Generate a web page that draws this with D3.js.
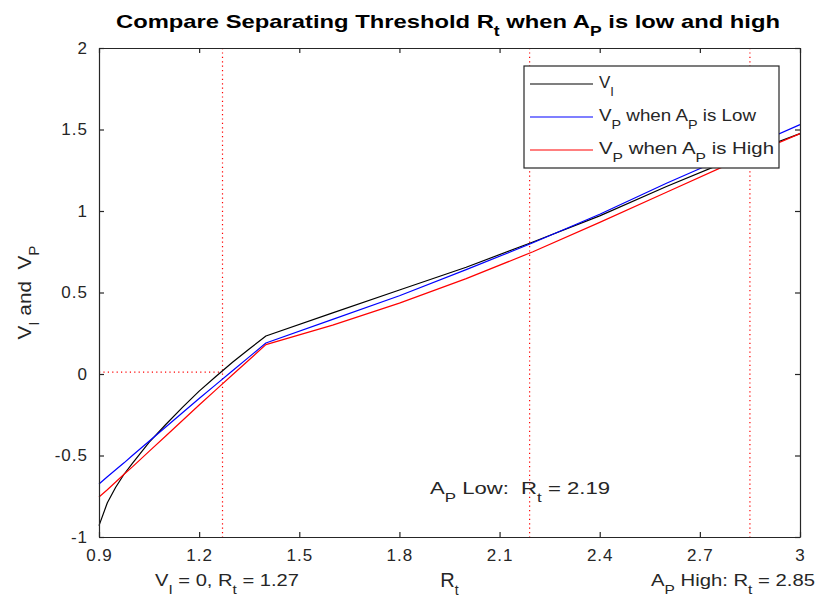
<!DOCTYPE html>
<meta charset="utf-8">
<title>Separating Threshold</title>
<script src="https://d3js.org/d3.v7.min.js"></script>
<style>
    body { margin: 0; background: #fff; }
    svg text { font-family: "Liberation Sans", Arial, Helvetica, sans-serif; fill: #262626; white-space: pre; }
</style>
<body>
<div id="chart"></div>
<script>
    // data
    var rt = [0.9, 0.925, 0.95, 0.975, 1.0, 1.05, 1.1, 1.15, 1.2, 1.25, 1.3, 1.35, 1.4, 1.6, 1.8, 2.0, 2.2, 2.4, 2.6, 2.8, 3.0];
    var vI = [-0.93, -0.79, -0.695, -0.615, -0.548, -0.42, -0.31, -0.205, -0.105, -0.015, 0.072, 0.153, 0.233, 0.375, 0.515, 0.655, 0.81, 0.97, 1.15, 1.32, 1.475];
    var vPLow = [-0.675, -0.63, -0.5875, -0.545, -0.50, -0.4125, -0.325, -0.2375, -0.15, -0.065, 0.02, 0.105, 0.19, 0.335, 0.48, 0.64, 0.805, 0.98, 1.17, 1.35, 1.53];
    var vPHigh = [-0.755, -0.71, -0.6625, -0.615, -0.57, -0.475, -0.38, -0.285, -0.19, -0.0975, -0.005, 0.0875, 0.18, 0.30, 0.435, 0.585, 0.75, 0.93, 1.115, 1.30, 1.475];
    var xTicks = [0.9, 1.2, 1.5, 1.8, 2.1, 2.4, 2.7, 3];
    var yTicks = [-1, -0.5, 0, 0.5, 1, 1.5, 2];
    var thresholds = [1.27, 2.19, 2.85];

    var W = 832, H = 601;
    var margin = {top: 48, right: 32, bottom: 64, left: 99};
    var width = W - margin.left - margin.right,
        height = H - margin.top - margin.bottom;

    var svg = d3.select("#chart").append("svg")
        .attr("width", W).attr("height", H);
    var g = svg.append("g")
        .attr("transform", "translate(" + margin.left + "," + margin.top + ")");

    var x = d3.scaleLinear().domain([0.9, 3]).range([0, width]);
    var y = d3.scaleLinear().domain([-1, 2]).range([height, 0]);

    // dotted threshold lines
    g.selectAll(".thr").data(thresholds).enter().append("line")
        .attr("x1", function(d) { return x(d); }).attr("x2", function(d) { return x(d); })
        .attr("y1", 0).attr("y2", height)
        .style("stroke", "#ff0000").style("stroke-width", 1.2)
        .style("stroke-dasharray", "1.2,3.2");
    g.append("line")
        .attr("x1", x(0.9)).attr("x2", x(1.27))
        .attr("y1", y(0.012)).attr("y2", y(0.012))
        .style("stroke", "#ff0000").style("stroke-width", 1.2)
        .style("stroke-dasharray", "1.2,3.2");

    var series = [
        {name: "VI", vals: vI, color: "#000000"},
        {name: "low", vals: vPLow, color: "#0000ff"},
        {name: "high", vals: vPHigh, color: "#ff0000"}
    ];
    var line = d3.line()
        .x(function(d) { return x(d[0]); })
        .y(function(d) { return y(d[1]); });

    g.selectAll(".series").data(series).enter().append("path")
        .attr("d", function(s) { return line(rt.map(function(r, i) { return [r, s.vals[i]]; })); })
        .style("fill", "none")
        .style("stroke", function(s) { return s.color; })
        .style("stroke-width", 1.2)
        .style("stroke-linejoin", "round");

    // axes box, ticks pointing inward on all four sides
    var tickLen = 5;
    var axB = g.append("g").attr("transform", "translate(0," + height + ")")
        .call(d3.axisBottom(x).tickValues(xTicks).tickSizeInner(-tickLen).tickSizeOuter(0).tickPadding(12)
            .tickFormat(function(d) { return String(d); }));
    var axL = g.append("g")
        .call(d3.axisLeft(y).tickValues(yTicks).tickSizeInner(-tickLen).tickSizeOuter(0).tickPadding(11)
            .tickFormat(function(d) { return String(d); }));
    var axT = g.append("g")
        .call(d3.axisTop(x).tickValues(xTicks).tickSizeInner(-tickLen).tickSizeOuter(0).tickFormat(""));
    var axR = g.append("g").attr("transform", "translate(" + width + ",0)")
        .call(d3.axisRight(y).tickValues(yTicks).tickSizeInner(-tickLen).tickSizeOuter(0).tickFormat(""));
    [axB, axL, axT, axR].forEach(function(a) {
        a.selectAll("path, line").style("stroke", "#262626").style("stroke-width", 1.2);
        a.selectAll("text").style("font-size", "17px").style("letter-spacing", "1px").style("fill", "#262626");
    });

    // text with subscripts: parts = [[text, isSub], ...], stretched to the given width
    function richText(sel, parts, subSize, len) {
        parts.forEach(function(p) {
            var t = sel.append("tspan").text(p[0]);
            if (p[1]) t.attr("baseline-shift", "sub").style("font-size", subSize);
        });
        if (len) sel.attr("textLength", len).attr("lengthAdjust", "spacingAndGlyphs");
        return sel;
    }

    // title
    richText(svg.append("text")
        .attr("x", 448).attr("y", 28)
        .attr("text-anchor", "middle")
        .style("font-size", "19px").style("font-weight", "bold").style("fill", "#000"),
        [["Compare Separating Threshold R", false], ["t", true], [" when A", false], ["P", true], [" is low and high", false]], "14px", 664);

    // y label
    richText(svg.append("text")
        .attr("transform", "translate(31," + (margin.top + y(0.5)) + ") rotate(-90)")
        .attr("text-anchor", "middle")
        .style("font-size", "19px"),
        [["V", false], ["I", true], [" and  V", false], ["P", true]], "14px", 94);

    // x label
    richText(svg.append("text")
        .attr("x", margin.left + x(1.95)).attr("y", 587)
        .attr("text-anchor", "middle")
        .style("font-size", "20px"),
        [["R", false], ["t", true]], "14px");

    // annotations
    richText(svg.append("text")
        .attr("x", 155).attr("y", 586)
        .style("font-size", "17px"),
        [["V", false], ["I", true], [" = 0, R", false], ["t", true], [" = 1.27", false]], "13px", 144);
    richText(svg.append("text")
        .attr("x", 430).attr("y", 494)
        .style("font-size", "17px"),
        [["A", false], ["P", true], [" Low:  R", false], ["t", true], [" = 2.19", false]], "13px", 180);
    richText(svg.append("text")
        .attr("x", 651).attr("y", 586)
        .style("font-size", "17px"),
        [["A", false], ["P", true], [" High: R", false], ["t", true], [" = 2.85", false]], "13px", 164);

    // legend
    var leg = svg.append("g").attr("transform", "translate(524,66)");
    leg.append("rect").attr("width", 255).attr("height", 102)
        .style("fill", "#fff").style("stroke", "#262626").style("stroke-width", 1.2);
    var legLabels = [
        [["V", false], ["I", true]],
        [["V", false], ["P", true], [" when A", false], ["P", true], [" is Low", false]],
        [["V", false], ["P", true], [" when A", false], ["P", true], [" is High", false]]
    ];
    var legLen = [null, 157, 175];
    series.forEach(function(s, i) {
        var yy = 18 + i * 33;
        leg.append("line").attr("x1", 6).attr("x2", 69).attr("y1", yy).attr("y2", yy)
            .style("stroke", s.color).style("stroke-width", 1.2);
        richText(leg.append("text").attr("x", 75).attr("y", yy + 4).style("font-size", "17px"),
            legLabels[i], "13px", legLen[i]);
    });
</script>
</body>
